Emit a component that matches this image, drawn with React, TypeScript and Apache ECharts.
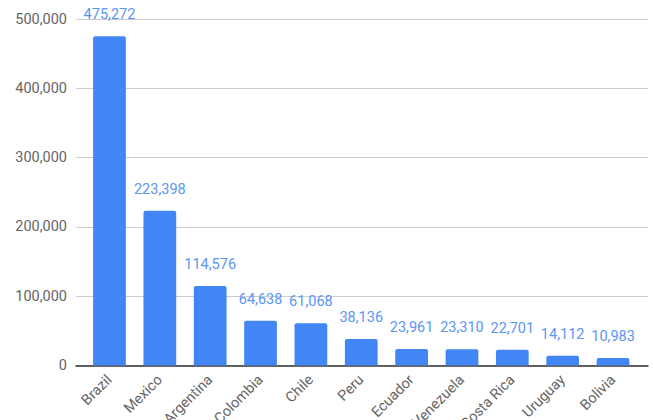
import React, { useEffect, useRef } from "react";
import * as echarts from "echarts";

const countries = ["Brazil", "Mexico", "Argentina", "Colombia", "Chile", "Peru", "Ecuador", "Venezuela", "Costa Rica", "Uruguay", "Bolivia"];
const cases = [475272, 223398, 114576, 64638, 61068, 38136, 23961, 23310, 22701, 14112, 10983];
const yMax = 500000;
const yStep = 100000;

export default function App() {
  const ref = useRef<HTMLDivElement>(null);
  useEffect(() => {
    if (!ref.current) return;
    const chart = echarts.init(ref.current, undefined, { renderer: "svg" });
    const font = "Roboto";
    chart.setOption({
      animation: false,
      backgroundColor: "#ffffff",
      grid: [
        { left: 76, right: 5, top: 19, bottom: 54.5, containLabel: false, outerBoundsMode: "none" },
        { left: 84.3, right: 14.8, top: 19, bottom: 54.5, containLabel: false, outerBoundsMode: "none" },
      ],
      xAxis: [
        {
          gridIndex: 0,
          type: "value",
          min: 0,
          max: 1,
          axisLine: { show: true, onZero: false, lineStyle: { color: "#333333", width: 1.5 } },
          axisTick: { show: false },
          axisLabel: { show: false },
          splitLine: { show: false },
        },
        {
          gridIndex: 1,
          type: "category",
          data: countries,
          boundaryGap: true,
          axisLine: { show: false },
          axisTick: { show: false },
          axisLabel: {
            rotate: 45,
            interval: 0,
            margin: 12,
            color: "#666666",
            fontFamily: font,
            fontSize: 14.5,
          },
        },
      ],
      yAxis: [
        {
          gridIndex: 0,
          type: "value",
          min: 0,
          max: yMax,
          interval: yStep,
          axisLine: { show: false },
          axisTick: { show: false },
          axisLabel: {
            margin: 9,
            color: "#666666",
            fontFamily: font,
            fontSize: 14.5,
            formatter: (v: number) => v.toLocaleString("en-US"),
          },
          splitLine: { show: true, lineStyle: { color: "#cccccc", width: 1 } },
        },
        {
          gridIndex: 1,
          type: "value",
          min: 0,
          max: yMax,
          interval: yStep,
          axisLine: { show: false },
          axisTick: { show: false },
          axisLabel: { show: false },
          splitLine: { show: false },
        },
      ],
      series: [
        {
          type: "bar",
          xAxisIndex: 1,
          yAxisIndex: 1,
          data: cases,
          barCategoryGap: "35%",
          itemStyle: { color: "#4285f4", borderRadius: [2, 2, 0, 0] },
          label: {
            show: true,
            position: "top",
            distance: 14,
            color: "#5b95f5",
            fontFamily: font,
            fontSize: 14.5,
            formatter: (p: any) => Number(p.value).toLocaleString("en-US"),
          },
          z: 3,
        },
      ],
    });
    return () => chart.dispose();
  }, []);
  return <div ref={ref} style={{ width: 653, height: 420, position: "fixed", left: 0, top: 0 }} />;
}
